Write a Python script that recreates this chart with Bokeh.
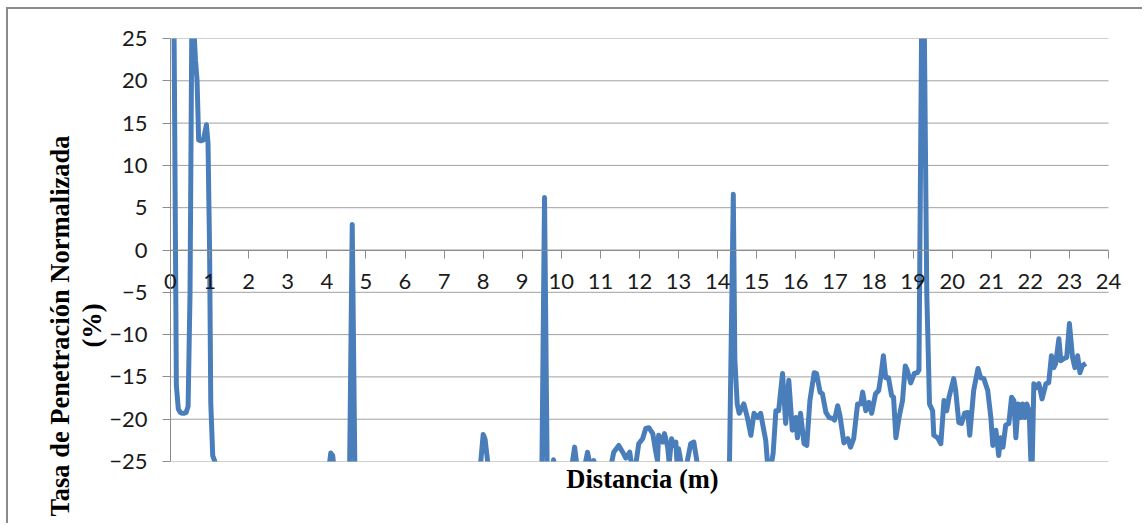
from bokeh.plotting import figure
from bokeh.models import FixedTicker, Range1d, Title, Span
from bokeh.embed import file_html
from bokeh.resources import INLINE

# ---- data ----
distancia = [
    0.00, 0.05, 0.10, 0.15, 0.20, 0.25, 0.30, 0.35, 0.40, 0.45, 0.50, 0.55, 0.60, 0.64, 0.68,
    0.72, 0.78, 0.84, 0.92, 0.96, 1.00, 1.03, 1.08, 1.15, 1.22, 1.30, 2.50, 4.00, 4.05, 4.10,
    4.15, 4.20, 4.50, 4.58, 4.65, 4.72, 4.80, 7.85, 7.92, 8.00, 8.05, 8.10, 8.16, 9.45, 9.50,
    9.57, 9.64, 9.72, 9.80, 9.88, 10.20, 10.27, 10.34, 10.40, 10.58, 10.67, 10.74, 10.83, 10.90,
    11.25, 11.34, 11.47, 11.57, 11.65, 11.75, 11.80, 11.90, 11.98, 12.08, 12.16, 12.24, 12.34,
    12.41, 12.46, 12.49, 12.59, 12.64, 12.72, 12.76, 12.82, 12.87, 12.93, 12.96, 13.00, 13.07,
    13.20, 13.31, 13.39, 13.48, 13.60, 14.25, 14.30, 14.40, 14.44, 14.50, 14.55, 14.67, 14.76,
    14.85, 14.93, 15.02, 15.10, 15.18, 15.23, 15.28, 15.35, 15.42, 15.49, 15.56, 15.66, 15.74,
    15.82, 15.91, 16.00, 16.04, 16.12, 16.21, 16.28, 16.36, 16.47, 16.53, 16.62, 16.68, 16.77,
    16.85, 16.94, 16.99, 17.07, 17.13, 17.23, 17.33, 17.40, 17.48, 17.58, 17.66, 17.71, 17.79,
    17.87, 17.94, 18.04, 18.12, 18.17, 18.24, 18.30, 18.37, 18.45, 18.50, 18.56, 18.64, 18.73,
    18.80, 18.85, 18.94, 19.03, 19.11, 19.15, 19.25, 19.35, 19.42, 19.50, 19.53, 19.63, 19.71,
    19.79, 19.86, 19.92, 20.04, 20.09, 20.17, 20.24, 20.32, 20.40, 20.45, 20.55, 20.66, 20.73,
    20.81, 20.91, 20.99, 21.04, 21.12, 21.19, 21.24, 21.30, 21.37, 21.45, 21.52, 21.58, 21.63,
    21.69, 21.76, 21.80, 21.86, 21.91, 21.97, 22.01, 22.04, 22.09, 22.14, 22.22, 22.30, 22.40,
    22.47, 22.54, 22.60, 22.65, 22.73, 22.78, 22.87, 22.93, 23.00, 23.08, 23.14, 23.21, 23.27,
    23.33, 23.42,
]
tasa = [
    80.0, 50.0, 20.0, -16.0, -18.8, -19.2, -19.3, -19.3, -19.2, -18.5, -5.0, 30.0, 26.0, 22.4, 20.0,
    13.0, 12.9, 13.0, 14.8, 12.6, 0.0, -18.0, -24.3, -25.2, -25.5, -30.0, -31.0, -29.0, -26.0, -24.0,
    -24.3, -26.5, -30.0, -27.0, 3.0, -27.0, -30.0, -30.0, -26.0, -21.8, -22.4, -24.4, -27.0, -30.0, -27.0,
    6.2, -27.0, -27.0, -24.8, -27.0, -27.0, -25.5, -23.3, -25.5, -26.0, -23.9, -25.5, -24.9, -26.0,
    -26.0, -23.9, -23.1, -23.9, -24.6, -23.9, -25.5, -25.5, -22.9, -22.3, -21.1, -21.0, -21.7,
    -23.7, -24.9, -21.9, -22.7, -21.7, -23.3, -25.2, -22.3, -23.1, -22.7, -25.2, -23.5, -25.3,
    -25.5, -22.9, -22.7, -25.3, -28.0, -28.0, -26.0, 6.6, -13.0, -18.2, -19.3, -18.2, -19.8,
    -21.9, -19.3, -19.8, -19.3, -21.3, -22.5, -25.5, -26.0, -24.0, -19.0, -19.0, -14.6, -20.5,
    -15.4, -21.3, -19.8, -22.2, -19.3, -22.9, -23.1, -17.8, -14.5, -14.6, -16.8, -17.0, -19.2,
    -19.8, -19.9, -20.1, -18.4, -19.6, -22.8, -22.3, -23.3, -22.3, -18.2, -18.2, -16.8, -19.0,
    -18.0, -19.3, -17.0, -16.6, -15.1, -12.5, -15.1, -15.1, -17.2, -17.4, -22.2, -19.8, -17.8,
    -13.7, -14.2, -15.7, -14.6, -14.5, -14.2, 45.0, -5.0, -18.2, -19.0, -21.9, -22.2, -22.9,
    -17.8, -19.0, -17.4, -15.2, -16.6, -20.4, -20.5, -19.3, -19.2, -21.9, -16.6, -14.0, -15.1,
    -15.2, -16.6, -19.8, -23.1, -21.3, -24.3, -22.2, -23.3, -20.7, -20.5, -17.4, -17.8, -22.2,
    -18.2, -19.8, -18.2, -19.8, -18.2, -19.0, -24.5, -27.0, -15.8, -16.3, -15.8, -17.6, -15.8,
    -15.7, -12.5, -13.9, -13.4, -10.5, -13.1, -12.8, -12.7, -8.7, -12.7, -13.9, -12.5, -14.5,
    -13.7, -13.4,
]
x_ticks = list(range(0, 25))
y_ticks = list(range(-25, 26, 5))
x_title = "Distancia (m)"
y_title_1 = "Tasa de Penetración Normalizada"
y_title_2 = "(%)"

GRID = "#a0a0a0"
AXIS = "#8c8c8c"
BLUE = "#4a7ebb"

X0, X1 = x_ticks[0], x_ticks[-1]
Y0, Y1 = y_ticks[0], y_ticks[-1]
PX_PER_X = 938.0 / (X1 - X0)          # plot area is 938 px wide

p = figure(
    width=1136, height=516,
    output_backend="svg", toolbar_location=None,
    # a little room beyond 0 and 24 so the end tick labels are not cut
    x_range=Range1d(X0 - 8 / PX_PER_X, X1 + 14 / PX_PER_X),
    y_range=Range1d(Y0, Y1),
    x_axis_location="above",
    min_border_left=154, min_border_right=22, min_border_top=29, min_border_bottom=64,
    background_fill_color="white", border_fill_color="white", outline_line_color=None,
    styles={
        "margin-left": "6px", "margin-top": "7px",
        "border-left": "2px solid #8a8a8a", "border-top": "2px solid #8a8a8a",
    },
)

# gridlines spanning exactly the plot area
p.xgrid.visible = False
p.ygrid.visible = False
p.segment(x0=[X0] * len(y_ticks), x1=[X1] * len(y_ticks), y0=y_ticks, y1=y_ticks,
          line_color=GRID, line_width=1)
# vertical axis line at x = 0
p.add_layout(Span(location=X0, dimension="height", line_color=AXIS, line_width=1))

# x axis crossing at y = 0, ticks and labels below the line
p.xaxis.fixed_location = 0
p.xaxis.bounds = (X0, X1)
p.xaxis.ticker = FixedTicker(ticks=x_ticks)
p.yaxis.ticker = FixedTicker(ticks=y_ticks)
for ax in (p.xaxis, p.yaxis):
    ax.axis_line_color = AXIS
    ax.axis_line_width = 1
    ax.major_tick_line_color = AXIS
    ax.minor_tick_line_color = None
    ax.major_label_text_font = "Lato"
    ax.major_label_text_font_size = "22px"
    ax.major_label_text_color = "#1a1a1a"
p.xaxis.major_tick_in = 8
p.xaxis.major_tick_out = 0
p.xaxis.major_label_standoff = -39
p.yaxis.axis_line_color = None
p.yaxis.major_tick_out = 0
p.yaxis.major_tick_in = 8
p.yaxis.major_label_standoff = 15

p.line(distancia, tasa, line_color=BLUE, line_width=5, line_join="round")

title_style = dict(text_font="Liberation Serif", text_font_style="bold",
                   text_font_size="26.5px", text_color="#000000")
p.add_layout(Title(text=y_title_2, align="left", offset=114, standoff=0, **title_style), "left")
p.add_layout(Title(text=y_title_1, align="left", offset=-55, standoff=0, **title_style), "left")
p.add_layout(Title(text=x_title, align="center", standoff=0, **title_style), "below")

open("out.html", "w").write(file_html(p, INLINE))
